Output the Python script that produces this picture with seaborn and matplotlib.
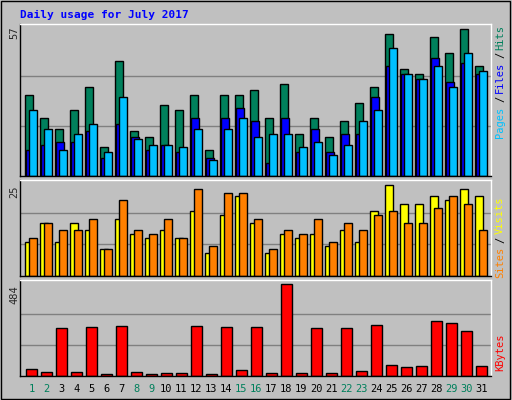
import numpy as np
import matplotlib
matplotlib.use("Agg")
import matplotlib.pyplot as plt
import seaborn as sns

days = list(range(1, 32))
hits = [31, 22, 18, 25, 34, 11, 44, 17, 15, 27, 25, 31, 10, 31, 31, 33, 22, 35, 16, 22, 15, 21, 28, 34, 54, 41, 39, 53, 47, 56, 42]
files = [10, 12, 13, 13, 17, 7, 20, 15, 10, 12, 9, 22, 7, 22, 26, 21, 5, 22, 9, 18, 9, 16, 16, 30, 42, 39, 37, 45, 36, 43, 39]
pages = [25, 18, 10, 16, 20, 9, 30, 14, 12, 12, 11, 18, 6, 18, 22, 15, 16, 16, 11, 13, 8, 12, 21, 25, 49, 39, 37, 42, 34, 47, 40]
visits = [9, 14, 9, 14, 12, 7, 15, 11, 10, 12, 10, 17, 6, 16, 21, 14, 6, 11, 10, 11, 8, 12, 9, 17, 24, 19, 19, 21, 20, 23, 21]
sites = [10, 14, 12, 12, 15, 7, 20, 12, 11, 15, 10, 23, 8, 22, 22, 15, 7, 12, 11, 15, 9, 14, 12, 16, 17, 14, 14, 18, 21, 19, 12]
kbytes = [39, 23, 250, 23, 255, 12, 260, 23, 12, 18, 18, 260, 12, 255, 33, 255, 18, 484, 18, 250, 18, 250, 28, 266, 60, 49, 55, 287, 276, 234, 55]
weekend = [1, 2, 8, 9, 15, 16, 22, 23, 29, 30]

sns.set_style("white")
plt.rcParams['font.family'] = ['DejaVu Sans Mono', 'DejaVu Sans']
BG = "#C0C0C0"
fig = plt.figure(figsize=(5.12, 4.0), dpi=100, facecolor=BG)
W, H = 512, 400

def mkax(top, bottom):
    ax = fig.add_axes([20 / W, 1 - bottom / H, 471 / W, (bottom - top) / H])
    ax.set_facecolor(BG)
    for s in ax.spines.values():
        s.set_color("black"); s.set_linewidth(1)
    ax.spines["top"].set_color("white"); ax.spines["right"].set_color("white")
    ax.set_xlim(0.267, 31.67)
    ax.set_xticks([]); ax.set_yticks([])
    return ax

x = np.array(days, dtype=float)
kw = dict(edgecolor="black", linewidth=1)

ax1 = mkax(24, 176)
ax1.set_ylim(0, 58)
for g in (19, 38):
    ax1.axhline(g, color="#808080", lw=1, zorder=0)
ax1.bar(x - 0.133, hits, width=0.53, color="#00805C", **kw)
ax1.bar(x - 0.05, files, width=0.53, color="#0000FF", **kw)
ax1.bar(x + 0.133, pages, width=0.5, color="#00C0FF", **kw)

ax2 = mkax(180, 276)
ax2.set_ylim(0, 25.3)
for g in (25 / 3, 50 / 3):
    ax2.axhline(g, color="#808080", lw=1, zorder=0)
ax2.bar(x - 0.133, visits, width=0.5, color="#FFFF00", **kw)
ax2.bar(x + 0.133, sites, width=0.5, color="#FF8000", **kw)

ax3 = mkax(280, 376)
ax3.set_ylim(0, 503)
for g in (484 / 3, 968 / 3):
    ax3.axhline(g, color="#808080", lw=1, zorder=0)
ax3.bar(x + 0.03, kbytes, width=0.69, color="#FF0000", **kw)
for d in days:
    ax3.text(d + 0.03, -13 / 96 * 503, str(d), ha="center", va="center", fontsize=7.5,
             color="#00805C" if d in weekend else "black")

fs = 7.5
fig.text(20 / W, 1 - 15 / H, "Daily usage for July 2017", color="#0000FF", fontsize=8,
         fontweight="bold", va="center", ha="left")
fig.text(14 / W, 1 - 33 / H, "57", rotation=90, ha="center", va="center", fontsize=fs)
fig.text(14 / W, 1 - 192 / H, "25", rotation=90, ha="center", va="center", fontsize=fs)
fig.text(14 / W, 1 - 295 / H, "484", rotation=90, ha="center", va="center", fontsize=fs)

def rtext(y, s, c):
    fig.text(500 / W, 1 - y / H, s, rotation=90, ha="center", va="center", fontsize=fs, color=c)
rtext(37, "Hits", "#00805C")
rtext(55, "/", "black")
rtext(77, "Files", "#0000FF")
rtext(99, "/", "black")
rtext(122, "Pages", "#00C0FF")
rtext(215, "Visits", "#FFFF00")
rtext(240, "/", "black")
rtext(262, "Sites", "#FF8000")
rtext(352, "KBytes", "#FF0000")

fig.patches.append(plt.Rectangle((0.002, 0.003), 0.994, 0.994, transform=fig.transFigure,
                                 fill=False, edgecolor="black", lw=1))
fig.savefig("out.png", dpi=100, facecolor=BG)
